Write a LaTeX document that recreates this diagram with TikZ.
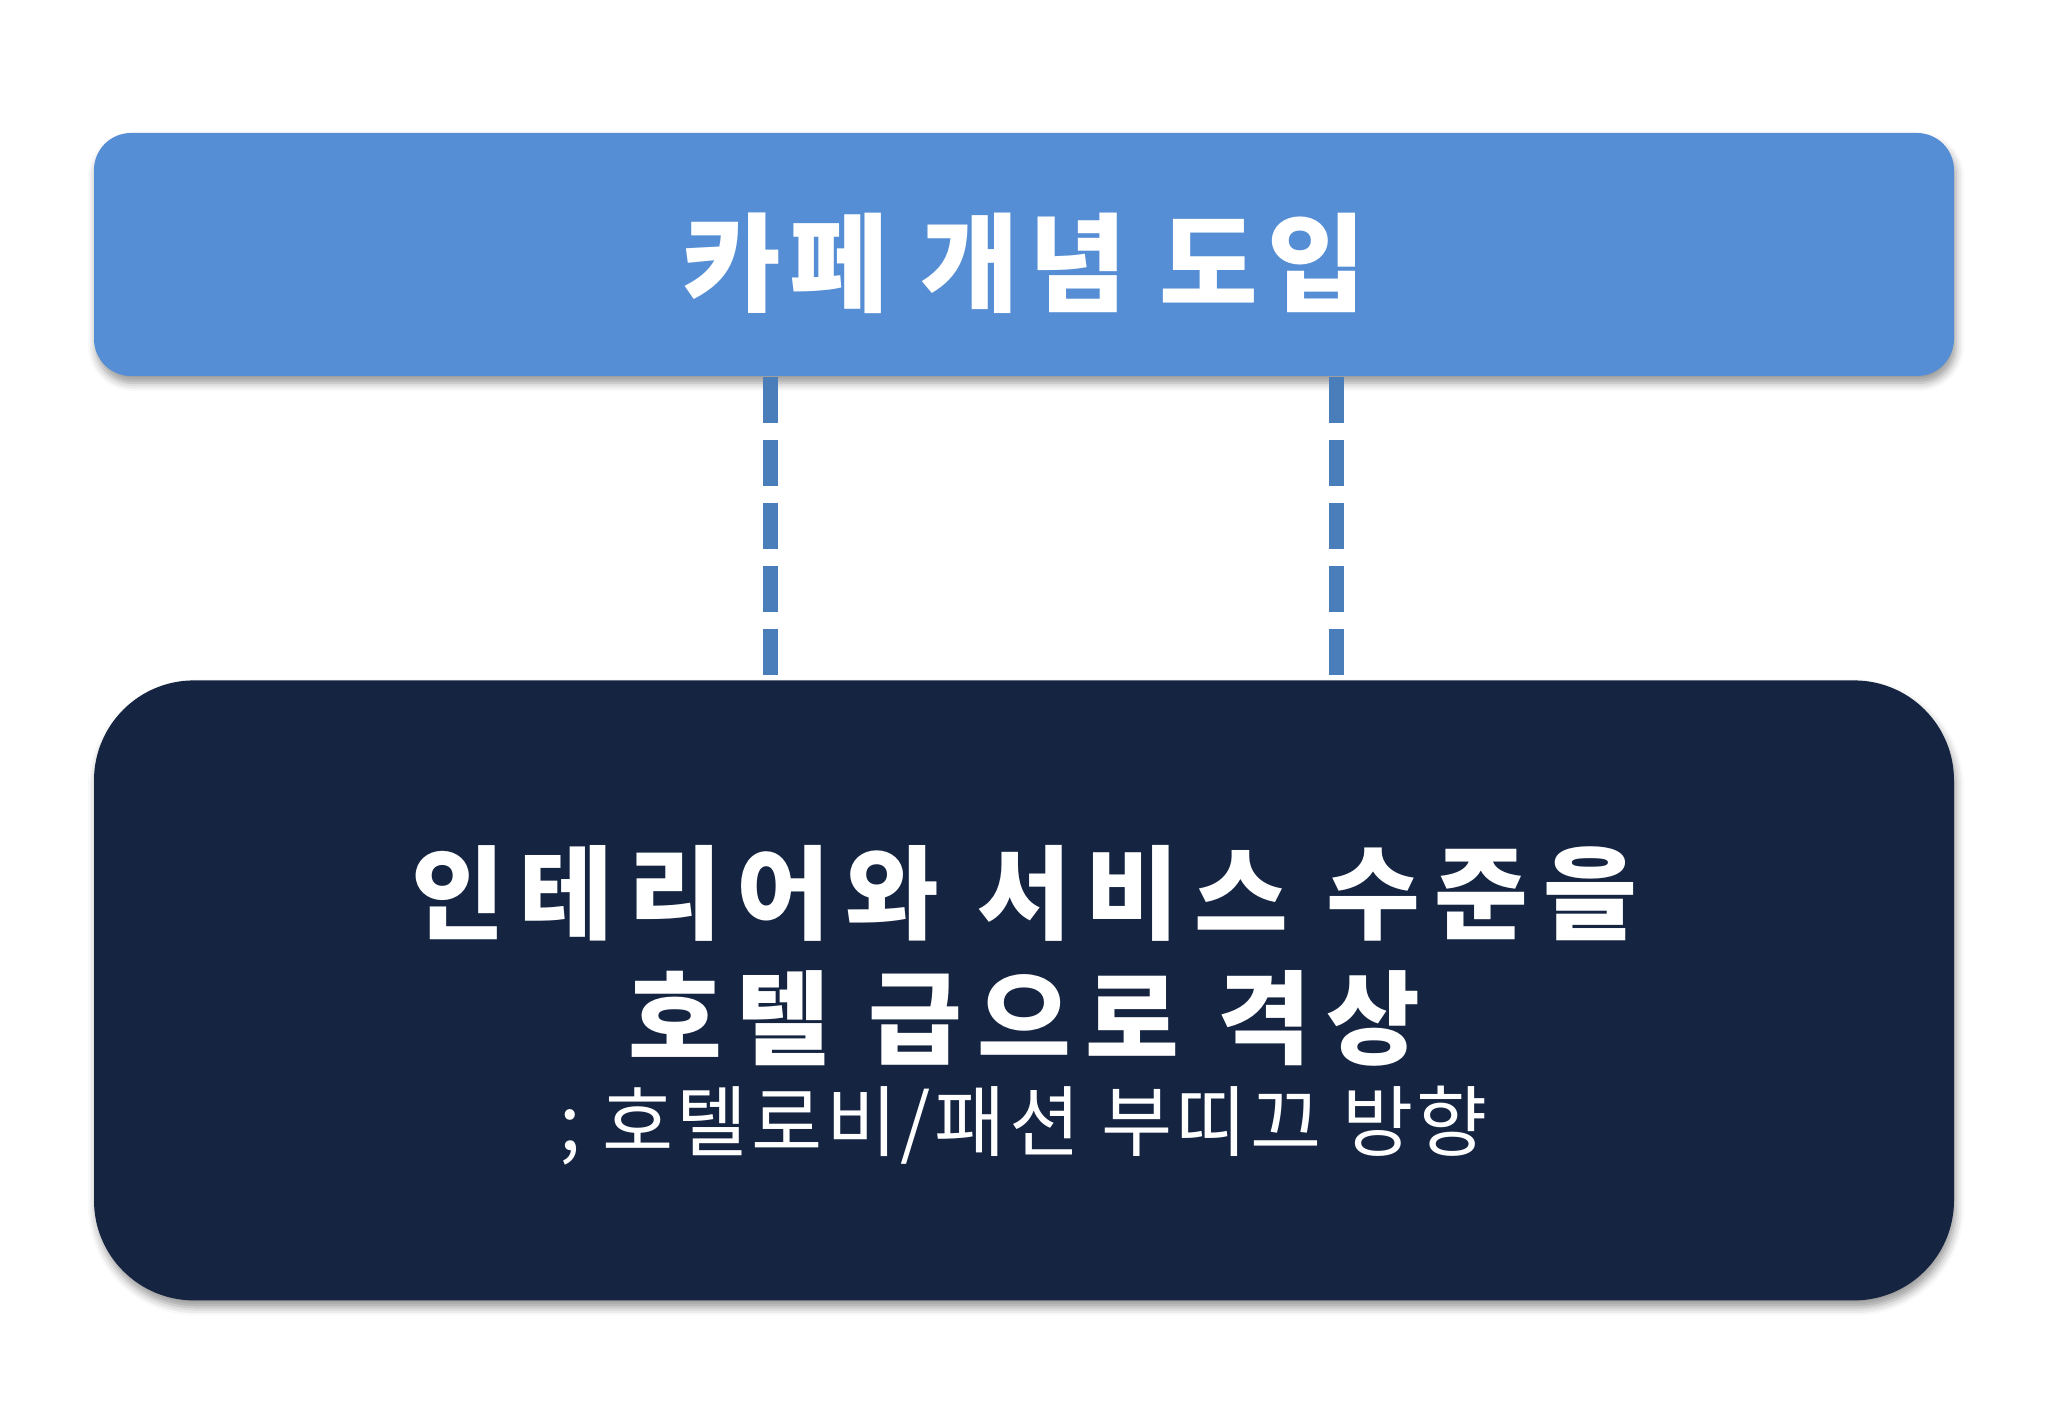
\documentclass[tikz,border=0pt]{standalone}
\usepackage{fontspec}
\newfontfamily\kotitle{Noto Sans CJK KR}[LetterSpace=8]
\newfontfamily\kowide{Noto Sans CJK KR}[LetterSpace=14.5]
\newfontfamily\kosub{Noto Sans CJK KR}[LetterSpace=4.5]
\usetikzlibrary{positioning,shadows.blur}
\definecolor{cafeblue}{RGB}{85,142,213}
\definecolor{linkblue}{RGB}{74,126,187}
\definecolor{hotelnavy}{RGB}{20,36,65}

\begin{document}
\begin{tikzpicture}[every node/.style={text=white},
                    headbox/.style={rectangle, rounded corners=0.37cm, fill=cafeblue,
                      minimum width=18.6cm, minimum height=2.43cm,
                      font=\kotitle\bfseries\fontsize{30.5}{34}\selectfont,
                      blur shadow={shadow xshift=0.02cm, shadow yshift=-0.07cm, shadow blur radius=0.08cm}},
                    hotelbox/.style={rectangle, rounded corners=1cm, fill=hotelnavy,
                      minimum width=18.6cm, minimum height=6.2cm,
                      blur shadow={shadow xshift=0.02cm, shadow yshift=-0.07cm, shadow blur radius=0.08cm}},
                    mainline/.style={font=\kowide\bfseries\fontsize{29}{34}\selectfont},
                    subline/.style={font=\kosub\fontsize{22}{26}\selectfont},
                    link/.style={linkblue, line width=0.15cm, dash pattern=on 0.46cm off 0.17cm}]
  \useasboundingbox (0,0) rectangle (20.48,-14.18);

  \node[headbox] (intro) at (10.24,-2.545) {\raisebox{-0.49cm}[0pt][0pt]{카페 개념 도입}};
  \node[hotelbox] (upgrade) [below=3.03cm of intro] {};

  \node[mainline] (interior) at ([yshift=0.97cm]upgrade.center) {인테리어와 서비스 수준을};
  \node[mainline] (grade) at ([yshift=-0.28cm]upgrade.center) {호텔 급으로 격상};
  \node[subline] (lobby) at ([yshift=-1.35cm]upgrade.center) {; 호텔로비/패션 부띠끄 방향};

  \coordinate (leftlink) at (7.70,0);
  \coordinate (rightlink) at (13.36,0);
  \draw[link] (intro.south -| leftlink) -- (upgrade.north -| leftlink);
  \draw[link] (intro.south -| rightlink) -- (upgrade.north -| rightlink);
\end{tikzpicture}
\end{document}
